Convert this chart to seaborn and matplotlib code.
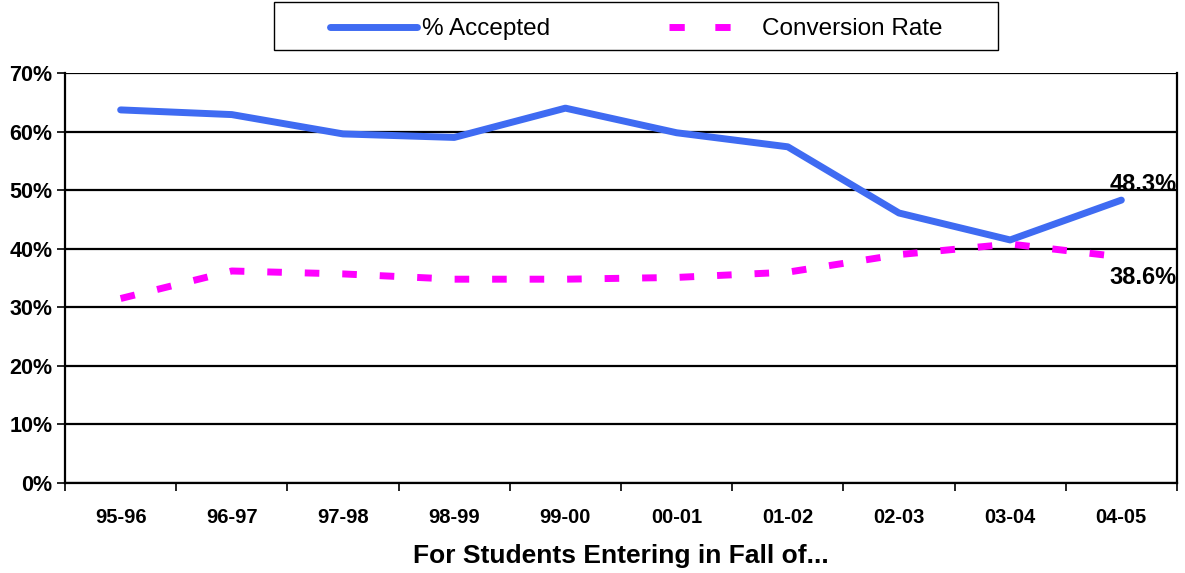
import pandas as pd
import matplotlib
matplotlib.use("Agg")
import matplotlib.pyplot as plt
from matplotlib.patches import Rectangle
from matplotlib.lines import Line2D
import seaborn as sns

# data
years = ['95-96', '96-97', '97-98', '98-99', '99-00', '00-01', '01-02', '02-03', '03-04', '04-05']
accepted = [63.7, 62.9, 59.6, 59.0, 64.0, 59.8, 57.4, 46.1, 41.5, 48.3]
conversion = [31.5, 36.2, 35.7, 34.8, 34.8, 35.1, 36.0, 39.0, 40.8, 38.6]
yticks = [0, 10, 20, 30, 40, 50, 60, 70]

sns.set_style('white')
plt.rcParams['font.family'] = ['Liberation Sans', 'DejaVu Sans']
plt.rcParams.update({'text.color': 'black', 'axes.labelcolor': 'black',
                     'xtick.color': 'black', 'ytick.color': 'black'})

df = pd.DataFrame({'year': years, 'accepted': accepted, 'conversion': conversion})
df['x'] = range(len(df))

blue = '#3F6BF2'
pink = '#FF00FF'

fig = plt.figure(figsize=(11.85, 5.73), dpi=100)
ax = fig.add_axes([0.0549, 0.157, 0.9383, 0.7156])

sns.lineplot(data=df, x='x', y='accepted', ax=ax, color=blue, lw=5,
             solid_capstyle='round', legend=False, zorder=3)
sns.lineplot(data=df, x='x', y='conversion', ax=ax, color=pink, lw=5,
             dashes=False, legend=False, zorder=3)
ax.lines[-1].set_dashes((2.1, 3.3))
ax.lines[-1].set_dash_capstyle('butt')

ax.set_xlim(-0.5, len(years) - 0.5)
ax.set_ylim(0, 70)
ax.set_yticks(yticks)
ax.set_yticklabels([f'{v}%' for v in yticks], fontsize=15.5, fontweight='bold')
ax.set_xticks(df['x'])
ax.set_xticklabels(years, fontsize=14.5, fontweight='bold')
ax.tick_params(axis='x', length=0, pad=18)
ax.tick_params(axis='y', length=6, width=1.2, left=True, pad=3)
# minor ticks between categories
ax.set_xticks([i - 0.5 for i in range(len(years) + 1)], minor=True)
ax.tick_params(axis='x', which='minor', length=6, width=1.2, bottom=True)

for v in yticks:
    ax.axhline(v, color='black', lw=1.6, zorder=1)
for s in ['left', 'right', 'bottom']:
    ax.spines[s].set_color('black')
    ax.spines[s].set_linewidth(1.6)
ax.spines['top'].set_visible(False)

ax.set_xlabel('For Students Entering in Fall of...', fontsize=19, fontweight='bold', labelpad=12)
ax.set_ylabel('')

ax.annotate(f'{accepted[-1]}%', (len(years) - 0.5, accepted[-1]), xytext=(0, 11),
            textcoords='offset points', ha='right', va='center', fontsize=17, fontweight='bold')
ax.annotate(f'{conversion[-1]}%', (len(years) - 0.5, conversion[-1]), xytext=(0, -14.5),
            textcoords='offset points', ha='right', va='center', fontsize=17, fontweight='bold')

handles = [Line2D([], [], color=blue, lw=5, solid_capstyle='round'),
           Line2D([], [], color=pink, lw=5, dashes=(2.2, 4.4), dash_capstyle='butt')]
labels = ['% Accepted', 'Conversion Rate']
leg = fig.legend(handles, labels, ncol=2, loc='center', bbox_to_anchor=(636 / 1185, 1 - 29 / 573),
                 fontsize=17.5, frameon=False, handlelength=3.6,
                 columnspacing=4.9, borderpad=0.3, handletextpad=0.2)
fig.patches.append(Rectangle((274 / 1185, 1 - 50 / 573), 724 / 1185, 48 / 573,
                             transform=fig.transFigure, fill=False, edgecolor='black', lw=1.0))

fig.savefig('out.png', dpi=100)
